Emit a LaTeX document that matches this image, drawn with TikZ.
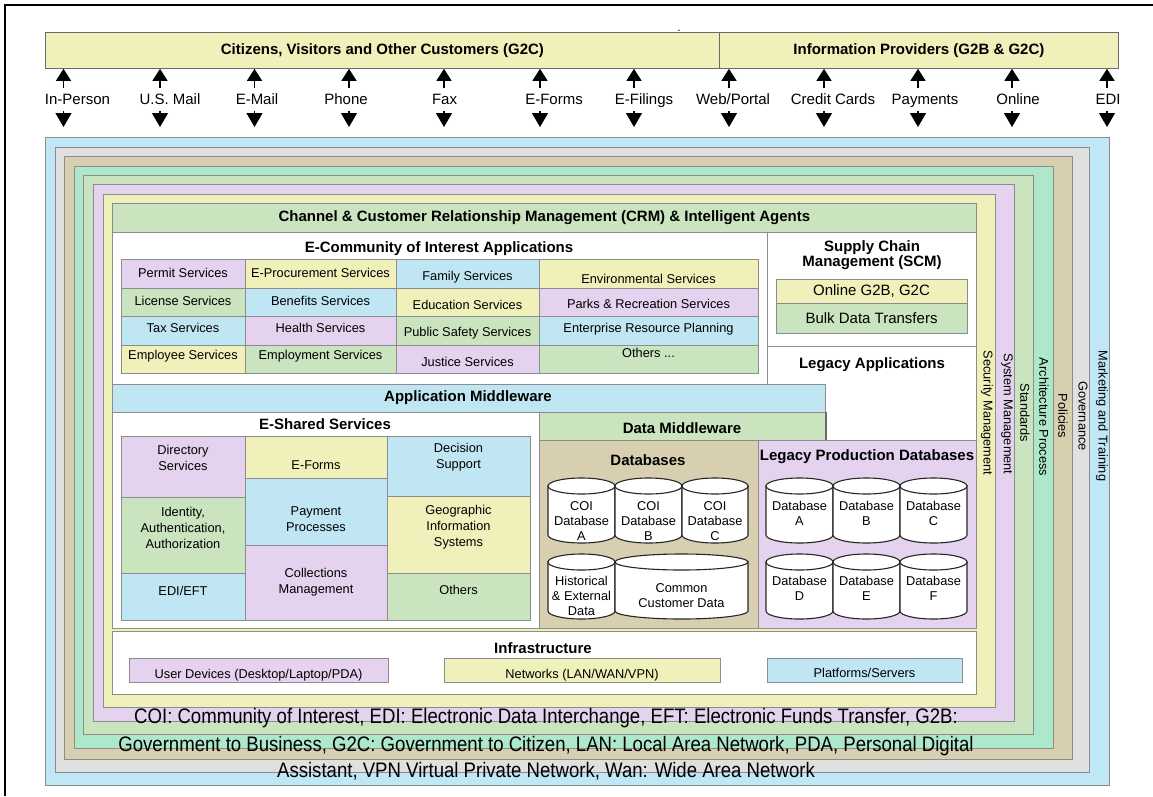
\documentclass[tikz,border=0pt]{standalone}
\usepackage{fontspec}
\setmainfont{Liberation Sans}
\newfontfamily\glossfont[FakeStretch=0.885]{Liberation Sans}
\usetikzlibrary{arrows.meta}

\definecolor{skyfill}{HTML}{BFE7F6}
\definecolor{grayfill}{HTML}{E0E0E0}
\definecolor{tanfill}{HTML}{D8CFB0}
\definecolor{mintfill}{HTML}{AEE8CA}
\definecolor{sagefill}{HTML}{C9E4BF}
\definecolor{lilacfill}{HTML}{E4D2EE}
\definecolor{creamfill}{HTML}{F0F0BA}
\definecolor{cellblue}{HTML}{C0E6F4}
\definecolor{edgegray}{HTML}{8C8C8C}
\definecolor{darkedge}{HTML}{6A6A6A}

\newcommand\fsz[2]{\fontsize{#1}{#2}\selectfont}

\tikzset{
  frame/.style={draw=edgegray, line width=0.8pt},
  panel/.style={draw=edgegray, line width=0.8pt, fill=white},
  cellbox/.style={draw=edgegray, line width=0.7pt},
  title/.style={font=\bfseries\fsz{15}{15.5}, align=center, inner sep=0pt},
  celltext/.style={font=\fsz{12.8}{16}, align=center, inner sep=0pt},
  dbtext/.style={font=\fsz{12.8}{15}, align=center, inner sep=0pt},
  sidelabel/.style={font=\fsz{12.8}{14}, rotate=-90, inner sep=0pt},
  chanlabel/.style={font=\fsz{15}{16}, inner sep=0pt, anchor=base},
  topbar/.style={draw=darkedge, line width=0.8pt, fill=creamfill, anchor=north west,
    minimum height=36pt, inner sep=0pt, font=\bfseries\fsz{15}{16}},
  flow/.style={line width=1.3pt, -{Triangle[width=15pt,length=12pt]}},
  flowdown/.style={line width=1.3pt, -{Triangle[width=16pt,length=14pt]}},
  cyl/.style={draw=black!85, line width=1.1pt, fill=white},
  gloss/.style={font=\glossfont\fsz{21}{27}, inner sep=0pt, anchor=base},
}

% coloured table cell: name, x1, y1, x2, y2, fill, text y, text
\newcommand\mkcell[8]{%
  \path[cellbox, fill=#6] (#2,#3) rectangle (#4,#5);
  \node[celltext] (#1) at ({(#2+#4)/2},#7) {#8};
}

% database cylinder: name, x1, x2, top, bottom, text y, text
\newcommand\dbcyl[7]{%
  \pgfmathsetmacro\cylrx{(#3-#2)/2}
  \path[cyl] (#2,{#4+8}) -- (#2,{#5-8})
    arc[start angle=180, end angle=360, x radius=\cylrx pt, y radius=8pt]
    -- (#3,{#4+8}) -- cycle;
  \path[cyl] ({(#2+#3)/2},{#4+8}) ellipse[x radius=\cylrx pt, y radius=8pt];
  \node[dbtext] (#1) at ({(#2+#3)/2},#6) {#7};
}

% access channel with its two arrows: name, arrow x, label x, label, bar
\newcommand\channel[5]{%
  \node[chanlabel] (#1) at (#3,104.5) {#4};
  \coordinate (#1-up) at (#2,88);
  \coordinate (#1-dn) at (#2,111);
  \coordinate (#1-end) at (#2,127);
  \draw[flow] (#1-up) -- (#1-up |- #5.south);
  \draw[flowdown] (#1-dn) -- (#1-end);
}

\begin{document}
\begin{tikzpicture}[x=1pt, y=-1pt]
\useasboundingbox (0,0) rectangle (1153,796);
\fill[white] (0,0) rectangle (1153,796);

% page rule
\draw[line width=2pt] (1153,5) -- (5,5) -- (5,796);

% customer groups
\node[topbar, minimum width=674pt] (citizens) at (45,32)
  {Citizens, Visitors and Other Customers (G2C)};
\node[topbar, minimum width=399pt] (providers) at (719,32)
  {Information Providers (G2B \& G2C)};
\node[anchor=base, inner sep=0pt, font=\fsz{12}{12}] (dot) at (679,31) {.};

% access channels
\channel{inperson}{63.5}{77.5}{In-Person}{citizens}
\channel{usmail}{160}{170}{U.S. Mail}{citizens}
\channel{email}{254.5}{257}{E-Mail}{citizens}
\channel{phone}{349}{346}{Phone}{citizens}
\channel{fax}{444}{444.5}{Fax}{citizens}
\channel{eforms}{540}{554}{E-Forms}{citizens}
\channel{efilings}{634}{644}{E-Filings}{citizens}
\channel{portal}{729}{733}{Web/Portal}{providers}
\channel{cards}{824}{833}{Credit Cards}{providers}
\channel{payments}{918}{925}{Payments}{providers}
\channel{online}{1012}{1018}{Online}{providers}
\channel{edi}{1107}{1108}{EDI}{providers}

% nested management layers
\path[frame, fill=skyfill]   (45,137) rectangle (1109,785);
\path[frame, fill=grayfill]  (55,147) rectangle (1089,772);
\path[frame, fill=tanfill]   (64,156) rectangle (1072,759);
\path[frame, fill=mintfill]  (74,166) rectangle (1053,748);
\path[frame, fill=sagefill]  (83,175) rectangle (1033,734);
\path[frame, fill=lilacfill] (93,184) rectangle (1014,721);
\path[frame, fill=creamfill] (103,194) rectangle (995,707);

\node[sidelabel] (security)   at (987,413)  {Security Management};
\node[sidelabel] (sysmgmt)    at (1007,414) {System Management};
\node[sidelabel] (standards)  at (1025,413) {Standards};
\node[sidelabel] (archproc)   at (1044,417) {Architecture Process};
\node[sidelabel] (policies)   at (1063,416) {Policies};
\node[sidelabel] (governance) at (1083,416) {Governance};
\node[sidelabel] (marketing)  at (1102,416) {Marketing and Training};

% CRM bar
\node[draw=edgegray, line width=0.8pt, fill=sagefill, anchor=north west,
  minimum width=864pt, minimum height=29pt, inner sep=0pt,
  font=\bfseries\fsz{15}{16}] (crm) at (112,203)
  {Channel \& Customer Relationship Management (CRM) \& Intelligent Agents};

% application panels
\path[panel] (112,232) rectangle (767,384);
\path[panel] (767,232) rectangle (976,346);
\path[panel] (767,346) rectangle (976,440);
\node[title] (ecoi) at (439,249) {E-Community of Interest Applications};
\node[title] (scm) at (872,255) {Supply Chain\\Management (SCM)};
\node[title] (legacyapps) at (872,365) {Legacy Applications};

\mkcell{scmonline}{776}{279}{967}{303}{creamfill}{291}{\fsz{15}{16}Online G2B, G2C}
\mkcell{scmbulk}{776}{303}{967}{333}{sagefill}{318}{\fsz{15}{16}Bulk Data Transfers}

% community of interest applications
\mkcell{permit}{121}{259}{245}{288}{lilacfill}{273}{Permit Services}
\mkcell{license}{121}{288}{245}{316}{sagefill}{301}{License Services}
\mkcell{tax}{121}{316}{245}{345}{cellblue}{328}{Tax Services}
\mkcell{employee}{121}{345}{245}{373}{creamfill}{356}{Employee Services}
\mkcell{eproc}{245}{259}{396}{288}{creamfill}{273}{E-Procurement Services}
\mkcell{benefits}{245}{288}{396}{316}{cellblue}{301}{Benefits Services}
\mkcell{health}{245}{316}{396}{345}{lilacfill}{328}{Health Services}
\mkcell{employment}{245}{345}{396}{373}{sagefill}{356}{Employment Services}
\mkcell{family}{396}{259}{539}{288}{cellblue}{277}{Family Services}
\mkcell{education}{396}{288}{539}{316}{creamfill}{305}{Education Services}
\mkcell{safety}{396}{316}{539}{345}{sagefill}{333}{Public Safety Services}
\mkcell{justice}{396}{345}{539}{373}{lilacfill}{362}{Justice Services}
\mkcell{environment}{539}{259}{758}{288}{creamfill}{279}{Environmental Services}
\mkcell{parks}{539}{288}{758}{316}{lilacfill}{304}{Parks \& Recreation Services}
\mkcell{erp}{539}{316}{758}{345}{cellblue}{329}{Enterprise Resource Planning}
\mkcell{otherapps}{539}{345}{758}{373}{sagefill}{353}{Others ...}

% middleware
\node[draw=edgegray, line width=0.8pt, fill=cellblue, anchor=north west,
  minimum width=713pt, minimum height=28pt, inner sep=0pt] (appmwbar) at (112,384) {};
\node[title] (appmw) at (468,398) {Application Middleware};

\path[panel] (112,412) rectangle (539,628);
\node[title] (eshared) at (325,424) {E-Shared Services};

\node[draw=edgegray, line width=0.8pt, fill=sagefill, anchor=north west,
  minimum width=286pt, minimum height=28pt, inner sep=0pt] (datamwbar) at (539,412) {};
\draw[darkedge, line width=1.5pt] (datamwbar.north east) -- (datamwbar.south east);
\node[title] (datamw) at (682,428) {Data Middleware};

% shared services
\mkcell{directory}{121}{436}{245}{497}{lilacfill}{458}{Directory\\Services}
\mkcell{identity}{121}{497}{245}{573}{sagefill}{528}{Identity,\\Authentication,\\Authorization}
\mkcell{edieft}{121}{573}{245}{620}{cellblue}{591}{EDI/EFT}
\mkcell{sharedforms}{245}{436}{387}{478}{creamfill}{465}{E-Forms}
\mkcell{paymentproc}{245}{478}{387}{545}{cellblue}{519}{Payment\\Processes}
\mkcell{collections}{245}{545}{387}{620}{lilacfill}{582}{Collections\\Management}
\mkcell{decision}{387}{436}{530}{496}{cellblue}{457}{Decision\\Support}
\mkcell{gis}{387}{496}{530}{573}{creamfill}{527}{Geographic\\Information\\Systems}
\mkcell{othershared}{387}{573}{530}{620}{sagefill}{590}{Others}

% databases
\path[panel, fill=tanfill] (539,440) rectangle (758,628);
\path[panel, fill=lilacfill] (758,440) rectangle (976,628);
\node[title] (databases) at (648,460) {Databases};
\node[title] (legacydb) at (867,457) {Legacy Production Databases};

\dbcyl{coia}{548}{615}{478}{543}{521}{COI\\Database\\A}
\dbcyl{coib}{615}{682}{478}{543}{521}{COI\\Database\\B}
\dbcyl{coic}{682}{748}{478}{543}{521}{COI\\Database\\C}
\dbcyl{histdata}{548}{615}{554}{619}{596}{Historical\\\& External\\Data}
\dbcyl{custdata}{615}{748}{554}{619}{596}{Common\\Customer Data}

\dbcyl{dba}{766}{833}{478}{543}{513.5}{Database\\A}
\dbcyl{dbb}{833}{900}{478}{543}{513.5}{Database\\B}
\dbcyl{dbc}{900}{967}{478}{543}{513.5}{Database\\C}
\dbcyl{dbd}{766}{833}{554}{619}{588.5}{Database\\D}
\dbcyl{dbe}{833}{900}{554}{619}{588.5}{Database\\E}
\dbcyl{dbf}{900}{967}{554}{619}{588.5}{Database\\F}

% infrastructure
\path[panel] (112,631) rectangle (976,694);
\node[title] (infra) at (543,648) {Infrastructure};
\mkcell{devices}{129}{658}{388}{682}{lilacfill}{675}{User Devices (Desktop/Laptop/PDA)}
\mkcell{networks}{444}{658}{720}{682}{creamfill}{675}{Networks (LAN/WAN/VPN)}
\mkcell{platforms}{767}{658}{962}{682}{cellblue}{673}{Platforms/Servers}

% abbreviations
\node[gloss] (gloss1) at (546,723) {COI: Community of Interest, EDI: Electronic Data Interchange, EFT: Electronic Funds Transfer, G2B:};
\node[gloss] (gloss2) at (546,751) {Government to Business, G2C: Government to Citizen, LAN: Local Area Network, PDA, Personal Digital};
\node[gloss] (gloss3) at (546,777) {Assistant, VPN Virtual Private Network, Wan: Wide Area Network};
\end{tikzpicture}
\end{document}
